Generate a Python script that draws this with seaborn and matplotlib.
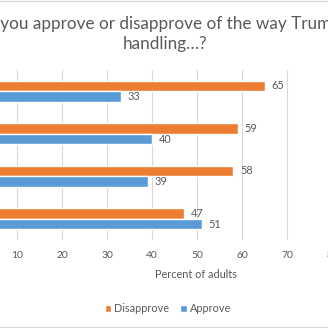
import matplotlib
matplotlib.use("Agg")
import matplotlib.pyplot as plt
import seaborn as sns
import pandas as pd
from matplotlib.patches import Patch
from matplotlib.lines import Line2D

# Data (category names are cropped out of the reference)
categories = ["Item 1", "Item 2", "Item 3", "Item 4"]
disapprove = [65, 59, 58, 47]
approve = [33, 40, 39, 51]
series = ["Disapprove", "Approve"]
xticks = [10, 20, 30, 40, 50, 60, 70, 80]

df = pd.DataFrame({
    "category": categories * 2,
    "value": disapprove + approve,
    "series": [series[0]] * 4 + [series[1]] * 4,
})

sns.set_theme(style="white")
plt.rcParams["font.family"] = ["Lato", "DejaVu Sans"]

W = H = 328
fig = plt.figure(figsize=(3.28, 3.28), dpi=100)
ax_left, ax_right = -28 / W, 332 / W
ax_top, ax_bot = 1 - 70 / H, 1 - 240 / H
ax = fig.add_axes([ax_left, ax_bot, ax_right - ax_left, ax_top - ax_bot])

orange = "#ED7D31"
blue = "#5B9BD5"
text_c = "#595959"

sns.barplot(data=df, y="category", x="value", hue="series", hue_order=series,
            order=categories, palette=[orange, blue], orient="h", width=0.5,
            gap=0, ax=ax, legend=False, saturation=1)

ax.set_xlim(0, 80)
ax.set_ylim(3.5, -0.5)
ax.set_xticks(xticks)
ax.set_xticklabels([str(t) for t in xticks])
ax.set_yticks([])
ax.set_xlabel("")
ax.set_ylabel("")
ax.grid(axis="x", color="#D9D9D9", linewidth=0.8)
ax.set_axisbelow(True)
for s in ax.spines.values():
    s.set_visible(False)
ax.tick_params(axis="x", length=0, pad=8, labelsize=7.4, labelcolor=text_c)

for cont in ax.containers:
    ax.bar_label(cont, padding=5, fontsize=7.8, color=text_c)

fig.text(196 / W, 1 - 274 / H, "Percent of adults", ha="center", va="center",
         fontsize=7.8, color=text_c)

fig.text(165 / W, 1 - 34 / H,
         "Do you approve or disapprove of the way Trump is\nhandling\u2026?",
         ha="center", va="center", fontsize=12.3, color=text_c, linespacing=1.25)

handles = [Patch(facecolor=orange, label=series[0]), Patch(facecolor=blue, label=series[1])]
fig.legend(handles=handles, loc="center", bbox_to_anchor=(168 / W, 1 - 309 / H),
           ncol=2, frameon=False, fontsize=7.8, labelcolor=text_c,
           handlelength=0.6, handleheight=0.6, handletextpad=0.3, columnspacing=1.0)

fig.add_artist(Line2D([0, 1], [1 - 0.5 / H, 1 - 0.5 / H], transform=fig.transFigure,
                      color="#D9D9D9", linewidth=1))
fig.add_artist(Line2D([0, 1], [1 - 326.5 / H, 1 - 326.5 / H], transform=fig.transFigure,
                      color="#D9D9D9", linewidth=1))

fig.savefig("out.png", dpi=100)
